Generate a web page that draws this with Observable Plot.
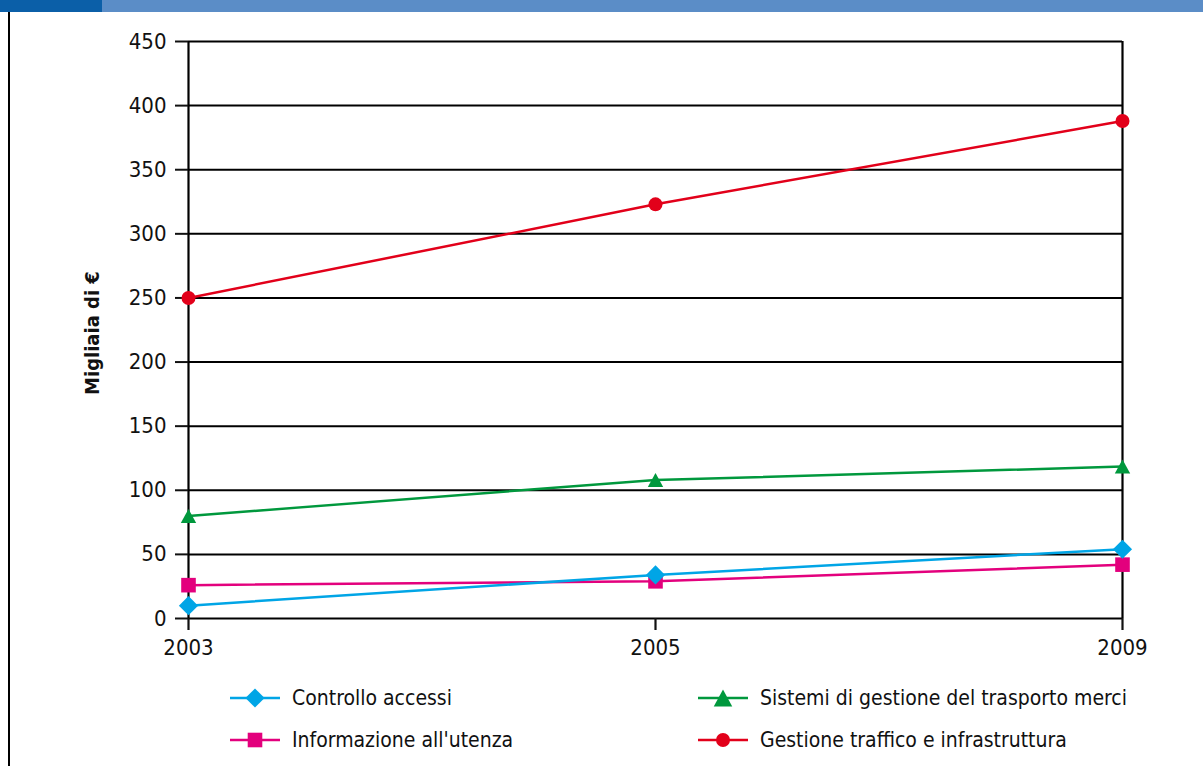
<!DOCTYPE html>
<html>
<head>
<meta charset="utf-8">
<script src="https://cdn.jsdelivr.net/npm/d3@7"></script>
<script src="https://cdn.jsdelivr.net/npm/@observablehq/plot@0.6"></script>
<style>
  html, body { margin: 0; padding: 0; background: #fff; }
  #page { position: relative; width: 1203px; height: 766px; overflow: hidden;
          font-family: "Liberation Sans Narrow", "Arial Narrow", "DejaVu Sans Condensed", sans-serif; color: #111; }
  #bar { position: absolute; left: 0; top: 0; width: 1203px; height: 12px; background: #5b8dc7; z-index: 2; }
  #bar .tab { position: absolute; left: 0; top: 0; width: 102px; height: 12px; background: #0b5fa8; }
  #edge { position: absolute; left: 8px; top: 12px; width: 2px; height: 754px; background: #000; }
  #chart { position: absolute; left: 0; top: 0; }
  #chart svg { background: transparent !important; }
  .item { position: absolute; display: flex; align-items: center; font-size: 21px; }
  .item svg { display: block; margin-right: 12px; }
</style>
</head>
<body>
<div id="page">
  <div id="bar"><div class="tab"></div></div>
  <div id="edge"></div>
  <div id="chart"></div>
  <div id="legend"></div>
</div>
<script>
// Survey years and series values (thousands of euro)
const years = ["2003", "2005", "2009"];
const controlloAccessi = [10, 34, 54];
const informazioneUtenza = [26, 29, 42];
const sistemiMerci = [80, 108, 118.5];
const gestioneTraffico = [250, 323, 388];
const yTicks = [0, 50, 100, 150, 200, 250, 300, 350, 400, 450];

const seriesNames = [
  "Controllo accessi",
  "Informazione all'utenza",
  "Sistemi di gestione del trasporto merci",
  "Gestione traffico e infrastruttura"
];
const seriesColors = ["#00a5e6", "#e3007d", "#00983d", "#e2001a"];

// Marker shapes; the radius passed by Plot is recovered from the symbol area
const rad = s => Math.sqrt(s / Math.PI);
const symDiamond = { draw(c, s) { const r = rad(s); c.moveTo(0, -r); c.lineTo(r, 0); c.lineTo(0, r); c.lineTo(-r, 0); c.closePath(); } };
const symSquare = { draw(c, s) { const r = rad(s); c.rect(-r, -r, 2 * r, 2 * r); } };
const symTriangle = { draw(c, s) { const r = rad(s); c.moveTo(0, -r); c.lineTo(r * 1.1, r); c.lineTo(-r * 1.1, r); c.closePath(); } };
const symCircle = { draw(c, s) { const r = rad(s); c.moveTo(r, 0); c.arc(0, 0, r, 0, 2 * Math.PI); } };

const seriesMarkers = [
  { symbol: symDiamond, r: 9.6 },
  { symbol: symSquare, r: 7.3 },
  { symbol: symTriangle, r: 7 },
  { symbol: symCircle, r: 7 }
];
const seriesValues = [controlloAccessi, informazioneUtenza, sistemiMerci, gestioneTraffico];

const rows = seriesValues.map((vals, i) => years.map((y, j) => ({ year: y, value: vals[j], series: seriesNames[i] })));

// Draw order: magenta first, then cyan, green, red on top
const drawOrder = [1, 0, 2, 3];

const marks = [
  Plot.ruleY(yTicks, { stroke: "#000", strokeWidth: 2 }),
  Plot.ruleX(["2003", "2009"], { y1: 0, y2: 450, stroke: "#000", strokeWidth: 2.2 }),
  Plot.axisY({ ticks: yTicks, tickSize: 13, tickPadding: 9, label: null, strokeWidth: 2 }),
  Plot.axisX({ tickSize: 12, tickPadding: 9, label: null, strokeWidth: 2.2 }),
  Plot.text(["Migliaia di €"], { frameAnchor: "left", dx: -96, dy: 3, rotate: -90, textAnchor: "middle", lineAnchor: "middle", fontWeight: "bold", fontSize: 20 })
];
for (const i of drawOrder) {
  marks.push(Plot.line(rows[i], { x: "year", y: "value", stroke: seriesColors[i], strokeWidth: 2.5 }));
  marks.push(Plot.dot(rows[i], { x: "year", y: "value", fill: seriesColors[i], stroke: "none", symbol: seriesMarkers[i].symbol, r: seriesMarkers[i].r }));
}

const chart = Plot.plot({
  width: 1203,
  height: 670,
  marginLeft: 188,
  marginRight: 81,
  marginTop: 41,
  marginBottom: 52,
  style: { fontFamily: "'Liberation Sans Narrow', 'Arial Narrow', 'DejaVu Sans Condensed', sans-serif", fontSize: "22px", color: "#111", background: "transparent" },
  x: { type: "point", domain: years, padding: 0 },
  y: { domain: [0, 450] },
  marks
});
document.getElementById("chart").appendChild(chart);

// Legend: two columns, two rows
const legendPos = [
  { left: 230, top: 698 },
  { left: 230, top: 740 },
  { left: 698, top: 698 },
  { left: 698, top: 740 }
];
const legend = document.getElementById("legend");
seriesNames.forEach((name, i) => {
  const item = document.createElement("div");
  item.className = "item";
  item.style.left = legendPos[i].left + "px";
  item.style.top = (legendPos[i].top - 15) + "px";
  item.style.height = "30px";
  const svg = d3.create("svg").attr("width", 50).attr("height", 30);
  svg.append("line").attr("x1", 0).attr("x2", 50).attr("y1", 15).attr("y2", 15)
    .attr("stroke", seriesColors[i]).attr("stroke-width", 2.5);
  const m = seriesMarkers[i];
  const scale = i === 2 ? 1.2 : 1;
  svg.append("path")
    .attr("transform", "translate(25,15)")
    .attr("d", d3.symbol(m.symbol, Math.PI * (m.r * scale) ** 2)())
    .attr("fill", seriesColors[i]);
  item.appendChild(svg.node());
  const span = document.createElement("span");
  span.textContent = name;
  item.appendChild(span);
  legend.appendChild(item);
});
</script>
</body>
</html>
